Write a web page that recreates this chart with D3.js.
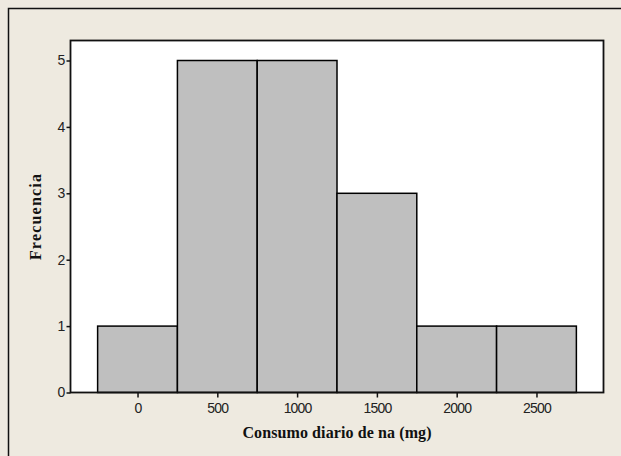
<!DOCTYPE html>
<html>
<head>
<meta charset="utf-8">
<script src="https://cdn.jsdelivr.net/npm/d3@7"></script>
<style>
html,body{margin:0;padding:0;background:#fff;}
svg{display:block;}
</style>
</head>
<body>
<svg id="chart" width="621" height="456"></svg>
<script>
const binCenters = [0, 500, 1000, 1500, 2000, 2500];
const frequencies = [1, 5, 5, 3, 1, 1];
const binWidth = 500;
const xTicks = [0, 500, 1000, 1500, 2000, 2500];
const yTicks = [0, 1, 2, 3, 4, 5];
const xTitle = "Consumo diario de na (mg)";
const yTitle = "Frecuencia";

const svg = d3.select("#chart");
const W = 621, H = 456;
const plot = {left: 70.5, right: 603.5, top: 40.5, bottom: 392.5};

// page background and outer frame
svg.append("rect").attr("x", 0).attr("y", 0).attr("width", W).attr("height", H).attr("fill", "#EEEAE0");
svg.append("rect").attr("x", 8.5).attr("y", 8.5).attr("width", 640).attr("height", 480)
  .attr("fill", "#EEEAE0").attr("stroke", "#111").attr("stroke-width", 1.5);

const x = d3.scaleLinear().domain([-420, 2920]).range([plot.left, plot.right]);
const y = d3.scaleLinear().domain([0, 5]).range([plot.bottom, plot.bottom - 5 * 66.4]);

// plot area
svg.append("rect").attr("x", plot.left).attr("y", plot.top)
  .attr("width", plot.right - plot.left).attr("height", plot.bottom - plot.top)
  .attr("fill", "#fff");

// bars
svg.append("g").selectAll("rect").data(binCenters).join("rect")
  .attr("x", (d) => x(d - binWidth / 2))
  .attr("width", (d) => x(d + binWidth / 2) - x(d - binWidth / 2))
  .attr("y", (d, i) => y(frequencies[i]))
  .attr("height", (d, i) => y(0) - y(frequencies[i]))
  .attr("fill", "#BFBFBF").attr("stroke", "#000").attr("stroke-width", 1.5);

// plot border
svg.append("rect").attr("x", plot.left).attr("y", plot.top)
  .attr("width", plot.right - plot.left).attr("height", plot.bottom - plot.top)
  .attr("fill", "none").attr("stroke", "#111").attr("stroke-width", 1.8);

// axes
const xAxis = d3.axisBottom(x).tickValues(xTicks).tickSize(5).tickPadding(6).tickFormat(d3.format("d"));
const gx = svg.append("g").attr("transform", `translate(0,${plot.bottom})`).call(xAxis);
gx.select(".domain").remove();

const yAxis = d3.axisLeft(y).tickValues(yTicks).tickSize(4).tickPadding(2).tickFormat(d3.format("d"));
const gy = svg.append("g").attr("transform", `translate(${plot.left},0)`).call(yAxis);
gy.select(".domain").remove();

[gx, gy].forEach(g => {
  g.selectAll(".tick line").attr("stroke", "#111").attr("stroke-width", 1.5);
  g.selectAll(".tick text").attr("fill", "#222")
    .style("font-family", "'Liberation Sans', Arial, sans-serif").style("font-size", "14px")
    .style("letter-spacing", "-0.8px");
});

// titles
svg.append("text").attr("x", (plot.left + plot.right) / 2).attr("y", 438)
  .attr("text-anchor", "middle")
  .style("font-family", "'Liberation Serif', 'Times New Roman', serif")
  .style("font-weight", "bold").style("font-size", "16px").style("letter-spacing", "0.1px")
  .attr("fill", "#111")
  .text(xTitle);

svg.append("text").attr("transform", `translate(41,${(plot.top + plot.bottom) / 2}) rotate(-90)`)
  .attr("text-anchor", "middle")
  .style("font-family", "'Liberation Serif', 'Times New Roman', serif")
  .style("font-weight", "bold").style("font-size", "16px").style("letter-spacing", "1.2px")
  .attr("fill", "#111")
  .text(yTitle);
</script>
</body>
</html>
